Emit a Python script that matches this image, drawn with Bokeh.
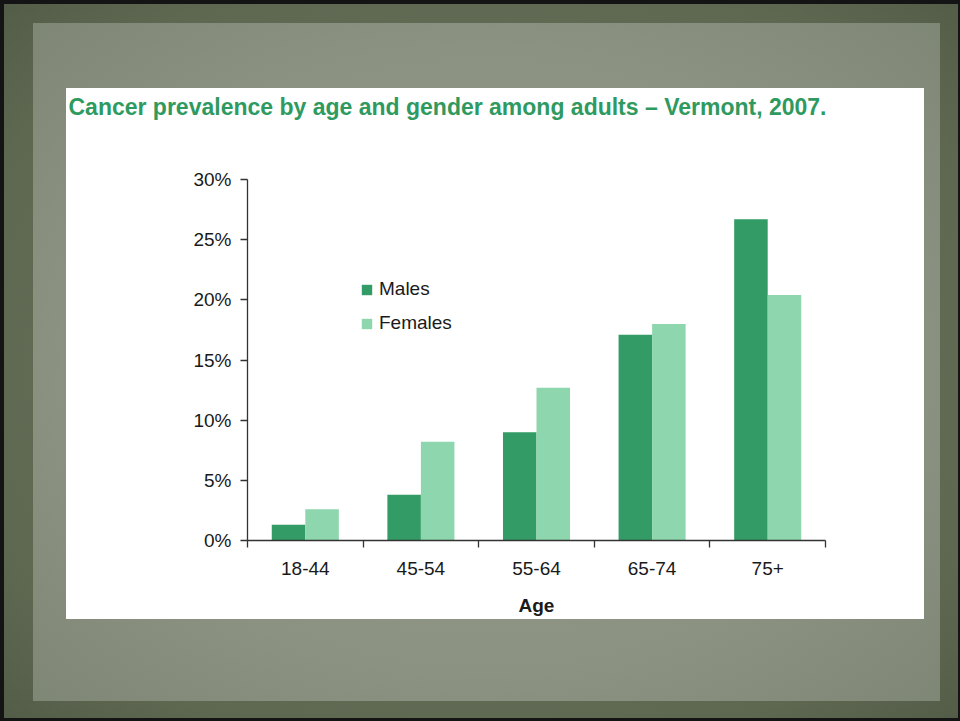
from bokeh.plotting import figure
from bokeh.models import (Range1d, LinearAxis, FixedTicker, PrintfTickFormatter,
                          Title, Legend, LegendItem, ColumnDataSource)
from bokeh.embed import file_html
from bokeh.resources import INLINE

# ---- data ----
title_text = "Cancer prevalence by age and gender among adults  \u2013 Vermont, 2007."
age_groups = ["18-44", "45-54", "55-64", "65-74", "75+"]
males = [1.3, 3.8, 9.0, 17.1, 26.7]
females = [2.6, 8.2, 12.7, 18.0, 20.4]
y_ticks = [0, 5, 10, 15, 20, 25, 30]
series_names = ["Males", "Females"]
x_label = "Age"

MALE_COLOR = "#339b65"
FEMALE_COLOR = "#8dd6ae"
TITLE_COLOR = "#2f9a5f"
TEXT_COLOR = "#1a1a1a"
AXIS_COLOR = "#333333"
FONT = "Liberation Sans"

n = len(age_groups)
centers = [i + 0.5 for i in range(n)]
bounds = list(range(n + 1))
bar_w = 0.29
src = ColumnDataSource(dict(
    age=age_groups, males=males, females=females,
    xm=[c - bar_w / 2 for c in centers], xf=[c + bar_w / 2 for c in centers]))

p = figure(width=960, height=721,
           x_range=Range1d(0, n), y_range=Range1d(0, 30),
           output_backend="svg", toolbar_location=None,
           x_axis_location=None, y_axis_location="left",
           min_border_left=247, min_border_right=135,
           min_border_top=179, min_border_bottom=181,
           border_fill_color=None, background_fill_color="white",
           outline_line_color=None)
p.grid.visible = False

# slide background (texture approximation) via CSS on the host element
p.styles = {
    "background": (
        "linear-gradient(#ffffff, #ffffff) 66px 88px / 858px 531px no-repeat, "
        "radial-gradient(ellipse at 50% 50%, #969b8c 0%, #8c9282 65%, #7e8675 100%) "
        "33px 23px / 907px 678px no-repeat, "
        "radial-gradient(ellipse at 50% 50%, #6c745f 0%, #5e6851 80%, #535c47 100%)"
    ),
    "box-shadow": "inset 4px 4px 0 0 #141414, inset -2px -3px 0 0 #141414",
}

# y axis
yax = p.yaxis[0]
yax.ticker = FixedTicker(ticks=y_ticks)
yax.formatter = PrintfTickFormatter(format="%d%%")
yax.major_tick_out = 7
yax.major_tick_in = 0
yax.minor_tick_line_color = None
yax.axis_line_color = AXIS_COLOR
yax.major_tick_line_color = AXIS_COLOR
yax.axis_line_width = 1.3
yax.major_tick_line_width = 1.3
yax.major_label_text_font = FONT
yax.major_label_text_font_size = "19px"
yax.major_label_text_color = TEXT_COLOR
yax.major_label_standoff = 9

# x axis: labels at category centres, tick marks at category boundaries (minor ticks)
xax = LinearAxis(ticker=FixedTicker(ticks=centers, minor_ticks=bounds),
                 major_label_overrides={c: a for c, a in zip(centers, age_groups)},
                 axis_line_color=AXIS_COLOR, axis_line_width=1.3,
                 major_tick_line_color=None, major_tick_out=0, major_tick_in=0,
                 minor_tick_line_color=AXIS_COLOR, minor_tick_line_width=1.3,
                 minor_tick_out=7, minor_tick_in=0,
                 major_label_standoff=14,
                 major_label_text_font=FONT, major_label_text_font_size="19px",
                 major_label_text_color=TEXT_COLOR,
                 axis_label=x_label, axis_label_text_font=FONT,
                 axis_label_text_font_size="19px",
                 axis_label_text_font_style="bold",
                 axis_label_text_color=TEXT_COLOR,
                 axis_label_standoff=17)
p.add_layout(xax, "below")

# bars
r_m = p.vbar(x="xm", top="males", width=bar_w,
             source=src, fill_color=MALE_COLOR, line_color=None)
r_f = p.vbar(x="xf", top="females", width=bar_w,
             source=src, fill_color=FEMALE_COLOR, line_color=None)

legend = Legend(items=[LegendItem(label=series_names[0], renderers=[r_m]),
                       LegendItem(label=series_names[1], renderers=[r_f])],
                location=(113, 206), padding=0, margin=0,
                border_line_color=None, background_fill_alpha=0,
                glyph_width=13, glyph_height=13, label_height=20,
                spacing=12, label_standoff=6,
                label_text_font=FONT, label_text_font_size="19px",
                label_text_color=TEXT_COLOR)
p.add_layout(legend)

title = Title(text=title_text, align="left", offset=-179, standoff=120,
              text_font=FONT, text_font_size="23px", text_font_style="bold",
              text_color=TITLE_COLOR)
p.add_layout(title, "above")

open("out.html", "w").write(file_html(p, INLINE))
